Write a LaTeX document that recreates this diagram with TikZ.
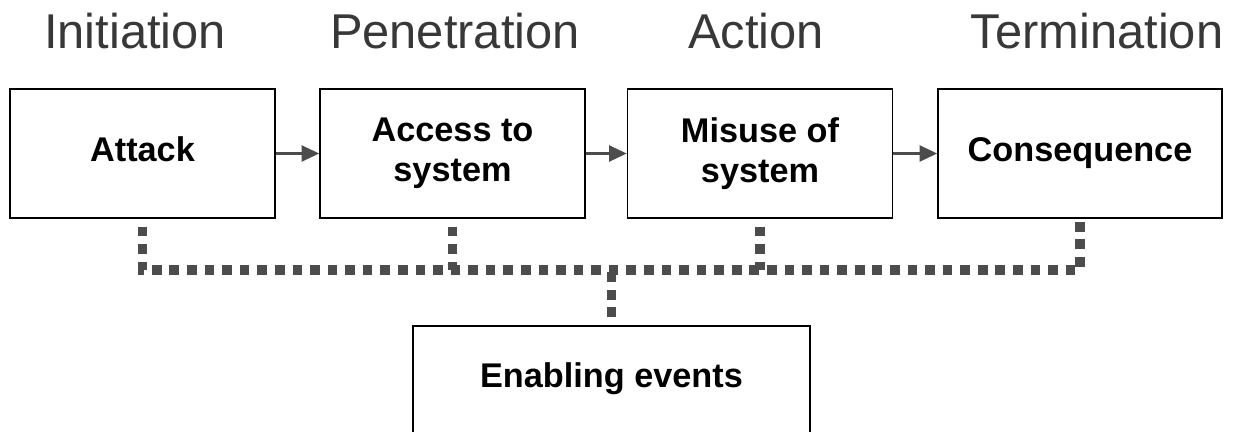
\documentclass[tikz,border=0pt]{standalone}
\usepackage{fontspec}
\setmainfont{Liberation Sans}
\usetikzlibrary{arrows.meta}

\begin{document}
\begin{tikzpicture}[
x=0.2mm, y=-0.2mm,
 phase/.style = {anchor=base, text=black!78,
      font=\fontsize{27.8}{33}\selectfont},
 stagebox/.style = {rectangle, draw, line width=0.9pt, fill=white,
      minimum width=53mm, minimum height=25.8mm, align=center,
      font=\bfseries\fontsize{19.5}{22.5}\selectfont},
 oneline/.style = {text height=14pt, text depth=4.4pt},
 flow/.style = {draw=black!70, line width=1.6pt,
      -{Triangle[length=10pt,width=9pt]}},
 enabler/.style = {draw=black!70, line width=5.5pt,
      dash pattern=on 5.5pt off 4.5pt, dash phase=5.5pt}
                    ]
\useasboundingbox (0,0) rectangle (1238,432);
\clip (0,0) rectangle (1238,432);
% phases
\node (ini) [phase] at ( 135,48) {Initiation};
\node (pen) [phase] at ( 455,48) {Penetration};
\node (act) [phase] at ( 756,48) {Action};
\node (ter) [phase] at (1097,48) {Termination};
% stages
\node (attack)  [stagebox, oneline]            at ( 142.5,153.5) {Attack};
\node (access)  [stagebox]                     at ( 452.5,153.5) {Access to\\system};
\node (misuse)  [stagebox]                     at ( 760,  153.5) {Misuse of\\system};
\node (conseq)  [stagebox, oneline, minimum width=56.8mm] at (1080,153.5) {Consequence};
\node (enabling) [stagebox, minimum width=79.4mm, anchor=north,
        text height=14.5pt, text depth=17.3pt] at (611.5,325) {Enabling events};
\coordinate (bus) at (0,270);
 %
\path   (attack) edge[flow] (access)
        (access) edge[flow] (misuse)
        (misuse) edge[flow] (conseq);
\draw[enabler] (attack.south) -- (attack.south |- bus)
        -- (conseq.south |- bus) -- (conseq.south);
\draw[enabler] (access.south) -- (access.south |- bus);
\draw[enabler] (misuse.south) -- (misuse.south |- bus);
\draw[enabler] (enabling.north) -- (enabling.north |- bus);
\end{tikzpicture}
\end{document}
